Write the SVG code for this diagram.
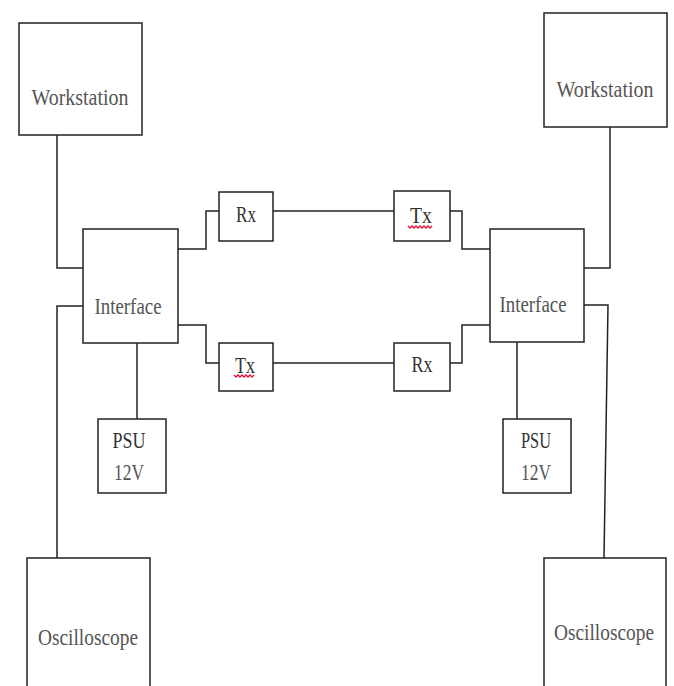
<svg xmlns="http://www.w3.org/2000/svg" width="674" height="686" viewBox="0 0 674 686">
<style>
.box{fill:#fff;stroke:#222;stroke-width:1.5}
.ln{fill:none;stroke:#222;stroke-width:1.5}
.t{font-family:"Liberation Serif","DejaVu Serif",serif;font-size:23px;fill:#555;text-anchor:middle}
.d{fill:#333}
.sq{fill:none;stroke:#e0103a;stroke-width:1.4}
</style>
<rect width="674" height="686" fill="#fff"/>
<g id="connectors">
<polyline class="ln" points="57,135 57,268 83,268"/>
<polyline class="ln" points="83,306 57,306 57,558"/>
<polyline class="ln" points="178,249 206,249 206,211 219,211"/>
<line class="ln" x1="273" y1="211" x2="394" y2="211"/>
<polyline class="ln" points="450,211 462,211 462,249 490,249"/>
<polyline class="ln" points="178,325 206,325 206,363 219,363"/>
<line class="ln" x1="273" y1="363" x2="394" y2="363"/>
<polyline class="ln" points="450,363 462,363 462,325 490,325"/>
<polyline class="ln" points="610,127 610,268 584,268"/>
<polyline class="ln" points="584,305 608,305 604,558"/>
<line class="ln" x1="137" y1="343" x2="137" y2="419"/>
<line class="ln" x1="517" y1="342" x2="517" y2="419"/>
</g>
<g id="workstation-left">
<rect class="box" x="19" y="23" width="123" height="112"/>
<text class="t" x="80" y="105" textLength="97" lengthAdjust="spacingAndGlyphs">Workstation</text>
</g>
<g id="workstation-right">
<rect class="box" x="544" y="13" width="123" height="114"/>
<text class="t" x="605" y="97" textLength="97" lengthAdjust="spacingAndGlyphs">Workstation</text>
</g>
<g id="interface-left">
<rect class="box" x="83" y="229" width="95" height="114"/>
<text class="t" x="128" y="314" textLength="67" lengthAdjust="spacingAndGlyphs">Interface</text>
</g>
<g id="interface-right">
<rect class="box" x="490" y="229" width="94" height="113"/>
<text class="t" x="533" y="312" textLength="67" lengthAdjust="spacingAndGlyphs">Interface</text>
</g>
<g id="rx-top">
<rect class="box" x="219" y="192" width="54" height="49"/>
<text class="t d" x="246" y="222" textLength="20" lengthAdjust="spacingAndGlyphs">Rx</text>
</g>
<g id="tx-top">
<rect class="box" x="394" y="191" width="56" height="50"/>
<text class="t d" x="421" y="223" textLength="22" lengthAdjust="spacingAndGlyphs">Tx</text>
<path class="sq" d="M408,226 l2,2 l2,-2 l2,2 l2,-2 l2,2 l2,-2 l2,2 l2,-2 l2,2 l2,-2 l2,2 l2,-2"/>
</g>
<g id="tx-bottom">
<rect class="box" x="219" y="343" width="54" height="48"/>
<text class="t d" x="245" y="373" textLength="20" lengthAdjust="spacingAndGlyphs">Tx</text>
<path class="sq" d="M234,375 l2,2 l2,-2 l2,2 l2,-2 l2,2 l2,-2 l2,2 l2,-2 l2,2 l2,-2"/>
</g>
<g id="rx-bottom">
<rect class="box" x="394" y="343" width="56" height="48"/>
<text class="t d" x="422" y="372" textLength="21" lengthAdjust="spacingAndGlyphs">Rx</text>
</g>
<g id="psu-left">
<rect class="box" x="98" y="419" width="68" height="74"/>
<text class="t d" x="129" y="448" textLength="33" lengthAdjust="spacingAndGlyphs">PSU</text>
<text class="t" x="129" y="480" textLength="30" lengthAdjust="spacingAndGlyphs">12V</text>
</g>
<g id="psu-right">
<rect class="box" x="503" y="419" width="68" height="74"/>
<text class="t d" x="536" y="448" textLength="30" lengthAdjust="spacingAndGlyphs">PSU</text>
<text class="t" x="536" y="480" textLength="30" lengthAdjust="spacingAndGlyphs">12V</text>
</g>
<g id="oscilloscope-left">
<rect class="box" x="27" y="558" width="123" height="140"/>
<text class="t" x="88" y="645" textLength="100" lengthAdjust="spacingAndGlyphs">Oscilloscope</text>
</g>
<g id="oscilloscope-right">
<rect class="box" x="544" y="558" width="122" height="140"/>
<text class="t" x="604" y="640" textLength="100" lengthAdjust="spacingAndGlyphs">Oscilloscope</text>
</g>
</svg>
